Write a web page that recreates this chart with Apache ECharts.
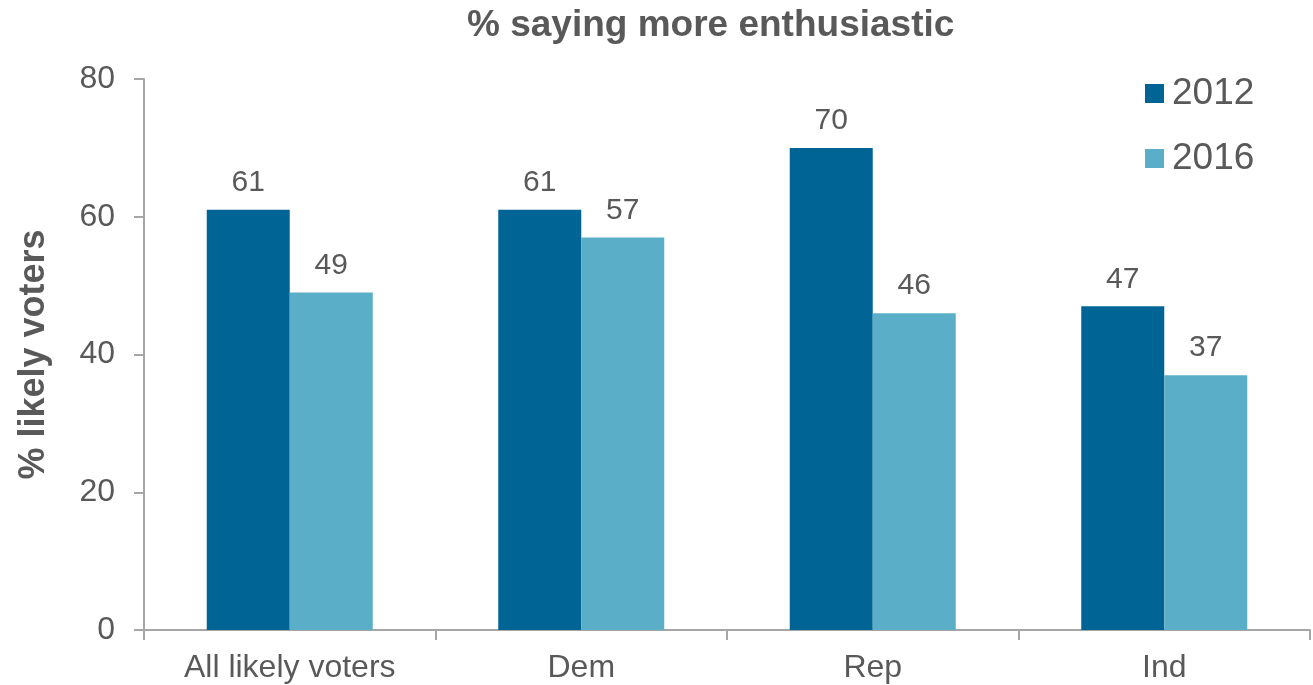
<!DOCTYPE html>
<html><head><meta charset="utf-8">
<script src="https://cdn.jsdelivr.net/npm/echarts@6/dist/echarts.min.js"></script>
<style>html,body{margin:0;padding:0;background:#fff}#c{width:1313px;height:685px}</style>
</head><body><div id="c"></div>
<script>
const categories = ['All likely voters', 'Dem', 'Rep', 'Ind'];
const values2012 = [61, 61, 70, 47];
const values2016 = [49, 57, 46, 37];
const seriesNames = ['2012', '2016'];
const yTicks = {min: 0, max: 80, interval: 20};

const FONT = 'Arial, "Liberation Sans", sans-serif';
const TXT = '#595959';
const chart = echarts.init(document.getElementById('c'), null, {renderer: 'canvas'});
const labelCfg = {show: true, position: 'top', distance: 12, color: TXT, fontSize: 30, fontFamily: FONT};
chart.setOption({
  animation: false,
  backgroundColor: '#fff',
  title: {text: '% saying more enthusiastic', left: 462, top: 2,
    textStyle: {color: TXT, fontSize: 37, fontWeight: 'bold', fontFamily: FONT}},
  legend: {orient: 'vertical', left: 1140, top: 66, itemWidth: 19, itemHeight: 19, itemGap: 20,
    icon: 'rect', textStyle: {color: TXT, fontSize: 37, fontFamily: FONT, lineHeight: 45, padding: [0,0,0,3]},
    data: seriesNames},
  grid: {left: 144, right: 3, top: 79, bottom: 55, containLabel: false, outerBoundsMode: 'none'},
  xAxis: {type: 'category', data: categories,
    axisLine: {lineStyle: {color: '#A6A6A6', width: 2}},
    axisTick: {show: true, alignWithLabel: false, length: 10, lineStyle: {color: '#A6A6A6', width: 2}},
    axisLabel: {color: TXT, fontSize: 32, fontFamily: FONT, margin: 22}},
  yAxis: {type: 'value', min: yTicks.min, max: yTicks.max, interval: yTicks.interval,
    name: '% likely voters', nameLocation: 'middle', nameGap: 92, nameRotate: 90,
    nameTextStyle: {color: TXT, fontSize: 36, fontWeight: 'bold', fontFamily: FONT},
    axisLine: {show: true, lineStyle: {color: '#A6A6A6', width: 2}},
    axisTick: {show: true, length: 10, lineStyle: {color: '#A6A6A6', width: 2}},
    splitLine: {show: false},
    axisLabel: {color: TXT, fontSize: 32, fontFamily: FONT, margin: 29}},
  series: [
    {name: seriesNames[0], type: 'bar', data: values2012, barWidth: 83, barGap: '0%',
     itemStyle: {color: '#006494'}, label: labelCfg},
    {name: seriesNames[1], type: 'bar', data: values2016, barWidth: 83, barGap: '0%',
     itemStyle: {color: '#5BAEC7'}, label: labelCfg}
  ]
});
</script></body></html>
